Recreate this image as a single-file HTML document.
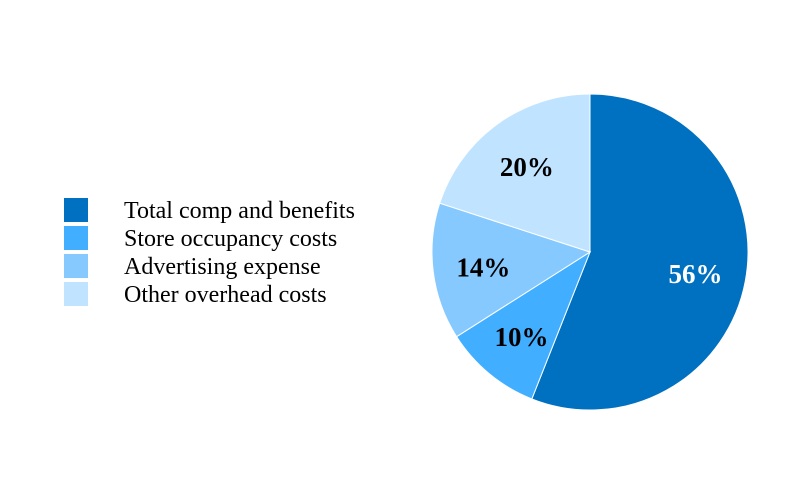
<!DOCTYPE html>
<html><head><meta charset="utf-8"><style>
html,body{margin:0;padding:0;background:#fff;}
svg{display:block;font-family:"Liberation Serif",serif;}
</style></head><body>
<svg width="800" height="502">
<g id="legend"></g>
<g id="pie"></g>
</svg>
<script>
const categories = ["Total comp and benefits","Store occupancy costs","Advertising expense","Other overhead costs"];
const values = [56,10,14,20];
const labels = ["56%","10%","14%","20%"];
const colors = ["#0070C0","#42AEFF","#86C9FF","#C0E4FF"];
const labelColors = ["#fff","#000","#000","#000"];
const NS="http://www.w3.org/2000/svg";
const cx=590, cy=252, r=158;
const pie=document.getElementById('pie'), legend=document.getElementById('legend');
const total=values.reduce((a,b)=>a+b,0);
let a0=0;
function pt(a,rr){return [cx+rr*Math.sin(a), cy-rr*Math.cos(a)];}
values.forEach((v,i)=>{
  const a1=a0+v/total*2*Math.PI;
  const [x0,y0]=pt(a0,r),[x1,y1]=pt(a1,r);
  const p=document.createElementNS(NS,'path');
  p.setAttribute('d',`M${cx},${cy}L${x0},${y0}A${r},${r} 0 ${a1-a0>Math.PI?1:0} 1 ${x1},${y1}Z`);
  p.setAttribute('fill',colors[i]);p.setAttribute('stroke','#fff');p.setAttribute('stroke-width','1');
  
  
  pie.appendChild(p);
  const [lx,ly]=pt((a0+a1)/2,r*0.68);
  const t=document.createElementNS(NS,'text');
  t.setAttribute('x',lx);t.setAttribute('y',ly+11);t.setAttribute('text-anchor','middle');
  t.setAttribute('font-size','27');t.setAttribute('font-weight','bold');t.setAttribute('fill',labelColors[i]);
  t.textContent=labels[i];
  
  
  pie.appendChild(t);
  a0=a1;
  const sq=document.createElementNS(NS,'rect');
  sq.setAttribute('x',64);sq.setAttribute('y',198+i*28);sq.setAttribute('width',24);sq.setAttribute('height',24);sq.setAttribute('fill',colors[i]);
  
  
  legend.appendChild(sq);
  const lt=document.createElementNS(NS,'text');
  lt.setAttribute('x',124);lt.setAttribute('y',218+i*28);lt.setAttribute('font-size','24');lt.setAttribute('fill','#000');
  lt.textContent=categories[i];
  
  
  legend.appendChild(lt);
});
</script>
</body></html>
